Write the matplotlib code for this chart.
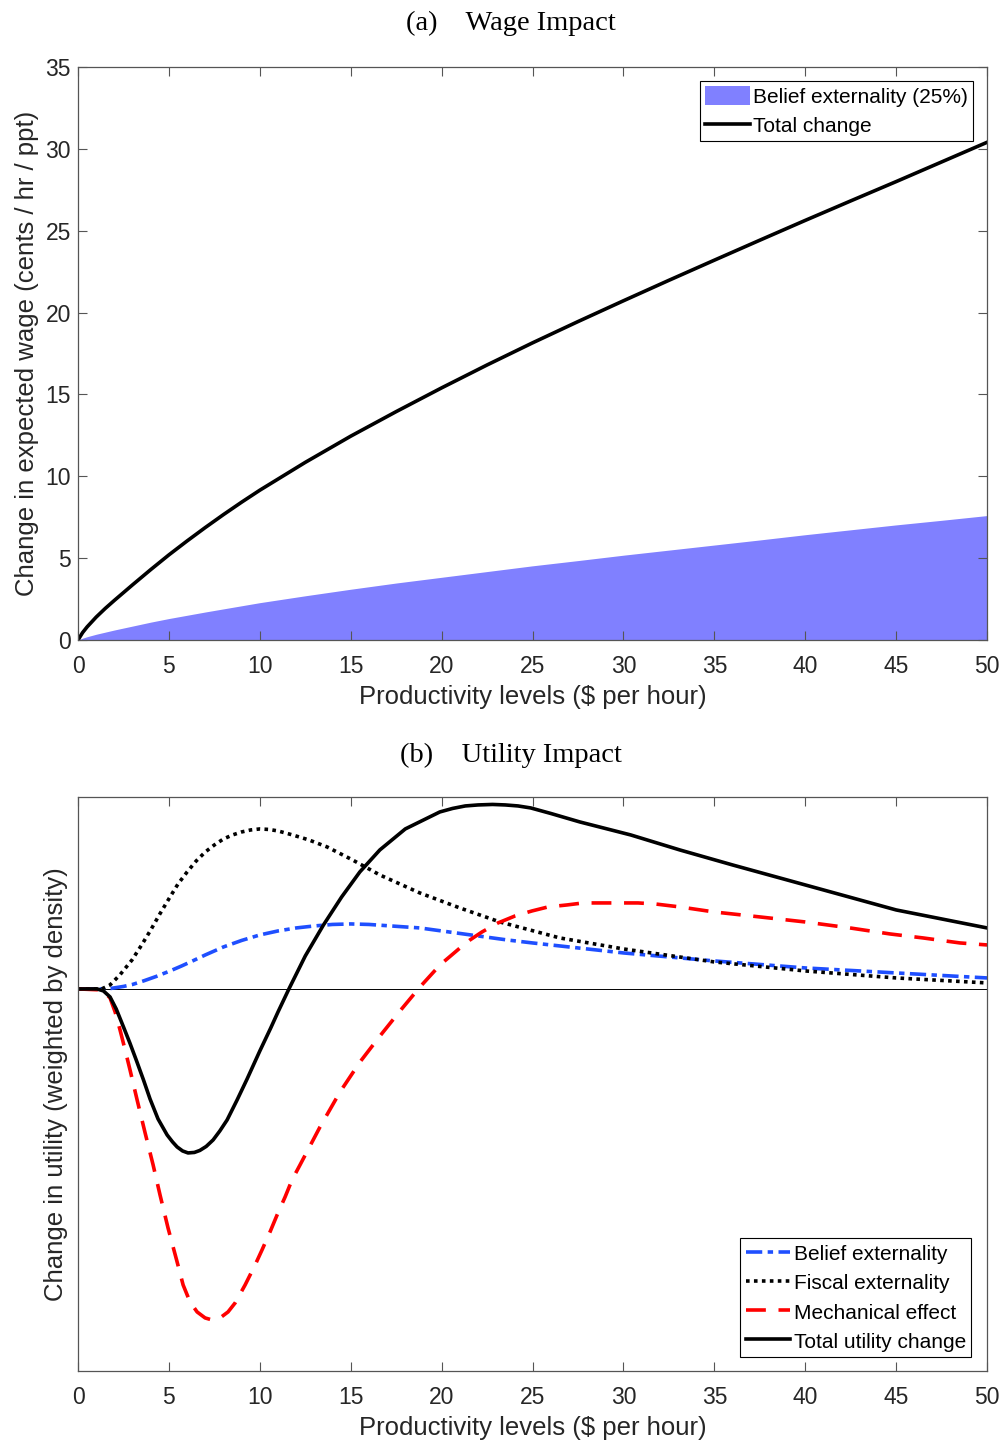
import numpy as np
import matplotlib
matplotlib.use('Agg')
import matplotlib.pyplot as plt

plt.rcParams['font.family'] = ['Liberation Sans', 'DejaVu Sans']

# ---- panel (a) data: wage impact ----
wage_x = [0, 0.25, 0.5, 1, 1.5, 2, 3, 4, 5, 6, 7, 8, 9, 10, 12.5, 15, 17.5,
          20, 22.5, 25, 27.5, 30, 32.5, 35, 37.5, 40, 42.5, 45, 47.5, 50]
total_change = [0, 0.45, 0.8, 1.4, 1.93, 2.42, 3.37, 4.3, 5.2, 6.05, 6.87,
                7.66, 8.42, 9.15, 10.85, 12.45, 13.95, 15.4, 16.8, 18.15,
                19.45, 20.72, 21.97, 23.2, 24.42, 25.63, 26.82, 28.0, 29.2,
                30.4]
belief_25 = [0, 0.11, 0.2, 0.35, 0.48, 0.61, 0.85, 1.09, 1.31, 1.51, 1.71,
             1.9, 2.09, 2.28, 2.7, 3.1, 3.48, 3.83, 4.18, 4.53, 4.85, 5.18,
             5.49, 5.8, 6.11, 6.43, 6.73, 7.03, 7.31, 7.6]

# ---- panel (b) data: utility impact (arbitrary units) ----
belief_x = [0, 1.3, 1.8, 2.5, 3, 3.6, 4.3, 5.06, 5.7, 6.3, 7, 8, 9, 10, 11,
            12, 13, 14, 15, 16, 16.8, 18.8, 20.8, 23.6, 25, 27.5, 30, 32.5,
            35, 37.5, 40, 42.5, 45, 47.5, 50]
belief_ext = [0, 0, 0.005, 0.025, 0.045, 0.08, 0.125, 0.18, 0.23, 0.28, 0.34,
              0.42, 0.485, 0.54, 0.58, 0.61, 0.63, 0.645, 0.65, 0.645, 0.635,
              0.61, 0.56, 0.49, 0.46, 0.41, 0.36, 0.32, 0.28, 0.245, 0.21,
              0.185, 0.16, 0.135, 0.11]

fiscal_x = [0, 1.3, 1.76, 2.3, 2.97, 3.5, 4, 4.5, 5.06, 5.5, 6, 6.5, 7, 7.5,
            8, 8.5, 9, 9.5, 10, 10.5, 11, 11.8, 12.7, 13.7, 15.1, 16.6, 18.8,
            21, 23.2, 26.5, 30, 35, 40, 45, 50]
fiscal_ext = [0, 0, 0.04, 0.14, 0.29, 0.44, 0.59, 0.75, 0.92, 1.05, 1.17,
              1.28, 1.37, 1.44, 1.5, 1.54, 1.57, 1.59, 1.6, 1.595, 1.58,
              1.54, 1.49, 1.42, 1.29, 1.14, 0.96, 0.81, 0.67, 0.51, 0.40,
              0.27, 0.18, 0.11, 0.06]

mech_x = [0, 1.32, 1.76, 2.04, 2.31, 2.59, 2.86, 3.25, 3.69, 4.13, 4.51, 4.95,
          5.45, 5.78, 6.16, 6.55, 6.99, 7.37, 7.81, 8.25, 8.64, 9.19, 9.74,
          10.12, 10.56, 10.95, 11.39, 11.77, 12.21, 13.31, 14.41, 15.51,
          16.61, 17.71, 18.81, 19.91, 21.01, 21.56, 22.22, 23.10, 24.04,
          24.97, 25.85, 26.90, 27.78, 28.82, 29.70, 30.80, 31.74, 33.11,
          34.98, 37.51, 39.99, 42.46, 44.66, 46.48, 48.51, 50]
mech_eff = [0, -0.01, -0.09, -0.23, -0.41, -0.61, -0.81, -1.11, -1.44, -1.76,
            -2.06, -2.39, -2.73, -2.96, -3.13, -3.23, -3.29, -3.31, -3.29,
            -3.23, -3.14, -2.96, -2.76, -2.61, -2.43, -2.26, -2.08, -1.91,
            -1.76, -1.38, -1.03, -0.73, -0.47, -0.22, 0.02, 0.24, 0.41, 0.49,
            0.57, 0.66, 0.73, 0.78, 0.82, 0.84, 0.86, 0.86, 0.86, 0.86, 0.85,
            0.82, 0.77, 0.72, 0.67, 0.61, 0.55, 0.51, 0.46, 0.44]

total_x = [0, 1.05, 1.4, 1.76, 2.1, 2.5, 2.85, 3.2, 3.6, 3.96, 4.4, 4.9, 5.2,
           5.45, 5.75, 6.05, 6.4, 6.7, 7.05, 7.43, 7.8, 8.2, 8.75, 9.3, 10,
           10.6, 11.0, 11.6, 12.5, 13.5, 14.5, 15.5, 16.6, 18, 19.9, 20.6,
           21.3, 22, 22.8, 23.5, 24.2, 24.9, 26, 27.6, 30.4, 33.1, 36, 40, 45,
           50]
total_util = [0, 0, -0.02, -0.08, -0.2, -0.38, -0.54, -0.71, -0.91, -1.1,
              -1.3, -1.46, -1.53, -1.58, -1.62, -1.64, -1.635, -1.615, -1.575,
              -1.51, -1.42, -1.31, -1.11, -0.9, -0.62, -0.39, -0.23, 0, 0.33,
              0.64, 0.92, 1.17, 1.39, 1.6, 1.77, 1.805, 1.83, 1.84, 1.845,
              1.84, 1.83, 1.81, 1.755, 1.67, 1.54, 1.39, 1.24, 1.04, 0.79,
              0.61]

xticks = list(range(0, 55, 5))
axis_grey = '#262626'
blue = '#1f4fff'

fig = plt.figure(figsize=(10.03, 14.44), dpi=100)
ax1 = fig.add_axes([0.0778, 0.5568, 0.9063, 0.3968])
ax2 = fig.add_axes([0.0778, 0.0506, 0.9063, 0.3975])


def style(ax):
    for s in ax.spines.values():
        s.set_color('#555555')
        s.set_linewidth(0.9)
    ax.tick_params(direction='in', top=True, right=True, length=6.5,
                   width=0.8, color='#555555', labelsize=16.5,
                   labelcolor=axis_grey)
    ax.tick_params(axis='x', pad=10.5)
    ax.tick_params(axis='y', pad=5)
    ax.set_xlim(0, 50)
    ax.set_xticks(xticks)
    ax.set_xlabel('Productivity levels ($ per hour)', fontsize=18.5,
                  color=axis_grey, labelpad=5.5)


def legend(ax, loc, anchor):
    leg = ax.legend(loc=loc, bbox_to_anchor=anchor, fontsize=15,
                    frameon=True, fancybox=False, framealpha=1,
                    edgecolor='k', borderpad=0.25, labelspacing=0.42,
                    handlelength=2.15, handleheight=1.0,
                    handletextpad=0.15, borderaxespad=0)
    leg.get_frame().set_linewidth(0.8)
    return leg


# panel (a)
ax1.fill_between(wage_x, 0, belief_25, color='#8080ff', lw=0,
                 label='Belief externality (25%)')
ax1.plot(wage_x, total_change, color='k', lw=2.6, label='Total change')
style(ax1)
ax1.set_ylim(0, 35)
ax1.set_yticks(range(0, 40, 5))
ax1.set_ylabel('Change in expected wage (cents / hr / ppt)', fontsize=18.5,
               color=axis_grey, labelpad=5)
legend(ax1, 'upper right', (0.9846, 0.9756))

# panel (b)
ax2.axhline(0, color='k', lw=0.7)
ax2.plot(belief_x, belief_ext, color=blue, lw=2.6,
         linestyle=(0, (4.5, 1.5, 1.5, 1.5)), label='Belief externality')
ax2.plot(fiscal_x, fiscal_ext, color='k', lw=2.6,
         linestyle=(0, (1, 1.2)), label='Fiscal externality')
ax2.plot(mech_x, mech_eff, color='red', lw=2.6,
         linestyle=(0, (5.5, 3.5)), label='Mechanical effect')
ax2.plot(total_x, total_util, color='k', lw=2.6, label='Total utility change')
style(ax2)
ax2.set_ylim(-3.82, 1.92)
ax2.set_yticks([])
ax2.set_ylabel('Change in utility (weighted by density)', fontsize=18.5,
               color=axis_grey, labelpad=7)
legend(ax2, 'lower right', (0.9824, 0.0244))

# panel titles (serif, like the LaTeX subcaptions)
fig.text(0.5095, 0.9835, '(a)    Wage Impact', family='Liberation Serif',
         fontsize=20.5, ha='center', va='center')
fig.text(0.5095, 0.4772, '(b)    Utility Impact', family='Liberation Serif',
         fontsize=20.5, ha='center', va='center')

fig.savefig('out.png', dpi=100)
